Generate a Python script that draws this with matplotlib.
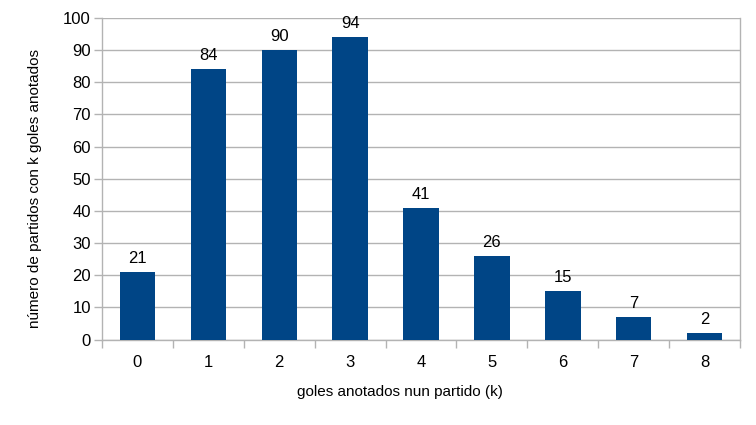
import matplotlib
matplotlib.use("Agg")
import matplotlib.pyplot as plt

goals = [0, 1, 2, 3, 4, 5, 6, 7, 8]
matches = [21, 84, 90, 94, 41, 26, 15, 7, 2]

bar_color = "#004586"
grid_color = "#b3b3b3"

plt.rcParams["font.family"] = ["Liberation Sans", "DejaVu Sans"]

fig = plt.figure(figsize=(7.56, 4.25), dpi=100)
# plot area in pixels: left 102, right 740, top 18, bottom 339
ax = fig.add_axes([102 / 756, 1 - 339.5 / 425, (740 - 102) / 756, (339.5 - 18) / 425])

ax.bar(goals, matches, width=0.5, color=bar_color, zorder=3)
for k, n in zip(goals, matches):
    ax.text(k, n + 2.8, str(n), ha="center", va="baseline", fontsize=12, color="#000000")

ax.set_xlim(-0.5, 8.5)
ax.set_ylim(0, 100)
ax.set_yticks(range(0, 101, 10))
ax.set_xticks(goals)
ax.set_xticks([i - 0.5 for i in range(10)], minor=True)
ax.tick_params(axis="x", which="major", length=0, pad=11, labelsize=12)
ax.tick_params(axis="x", which="minor", length=6, color=grid_color, width=1)
ax.tick_params(axis="y", length=6, color=grid_color, width=1, labelsize=12, pad=2)

ax.yaxis.grid(True, color=grid_color, linewidth=1, zorder=0)
for side in ["left", "right", "bottom"]:
    ax.spines[side].set_color(grid_color)
    ax.spines[side].set_linewidth(1)
ax.spines["top"].set_visible(False)

fig.text(400 / 756, 1 - 392 / 425, "goles anotados nun partido (k)", ha="center", va="center", fontsize=11)
fig.text(35 / 756, 1 - 189 / 425, "número de partidos con k goles anotados", ha="center", va="center",
         rotation=90, fontsize=11)

fig.savefig("out.png", dpi=100)
